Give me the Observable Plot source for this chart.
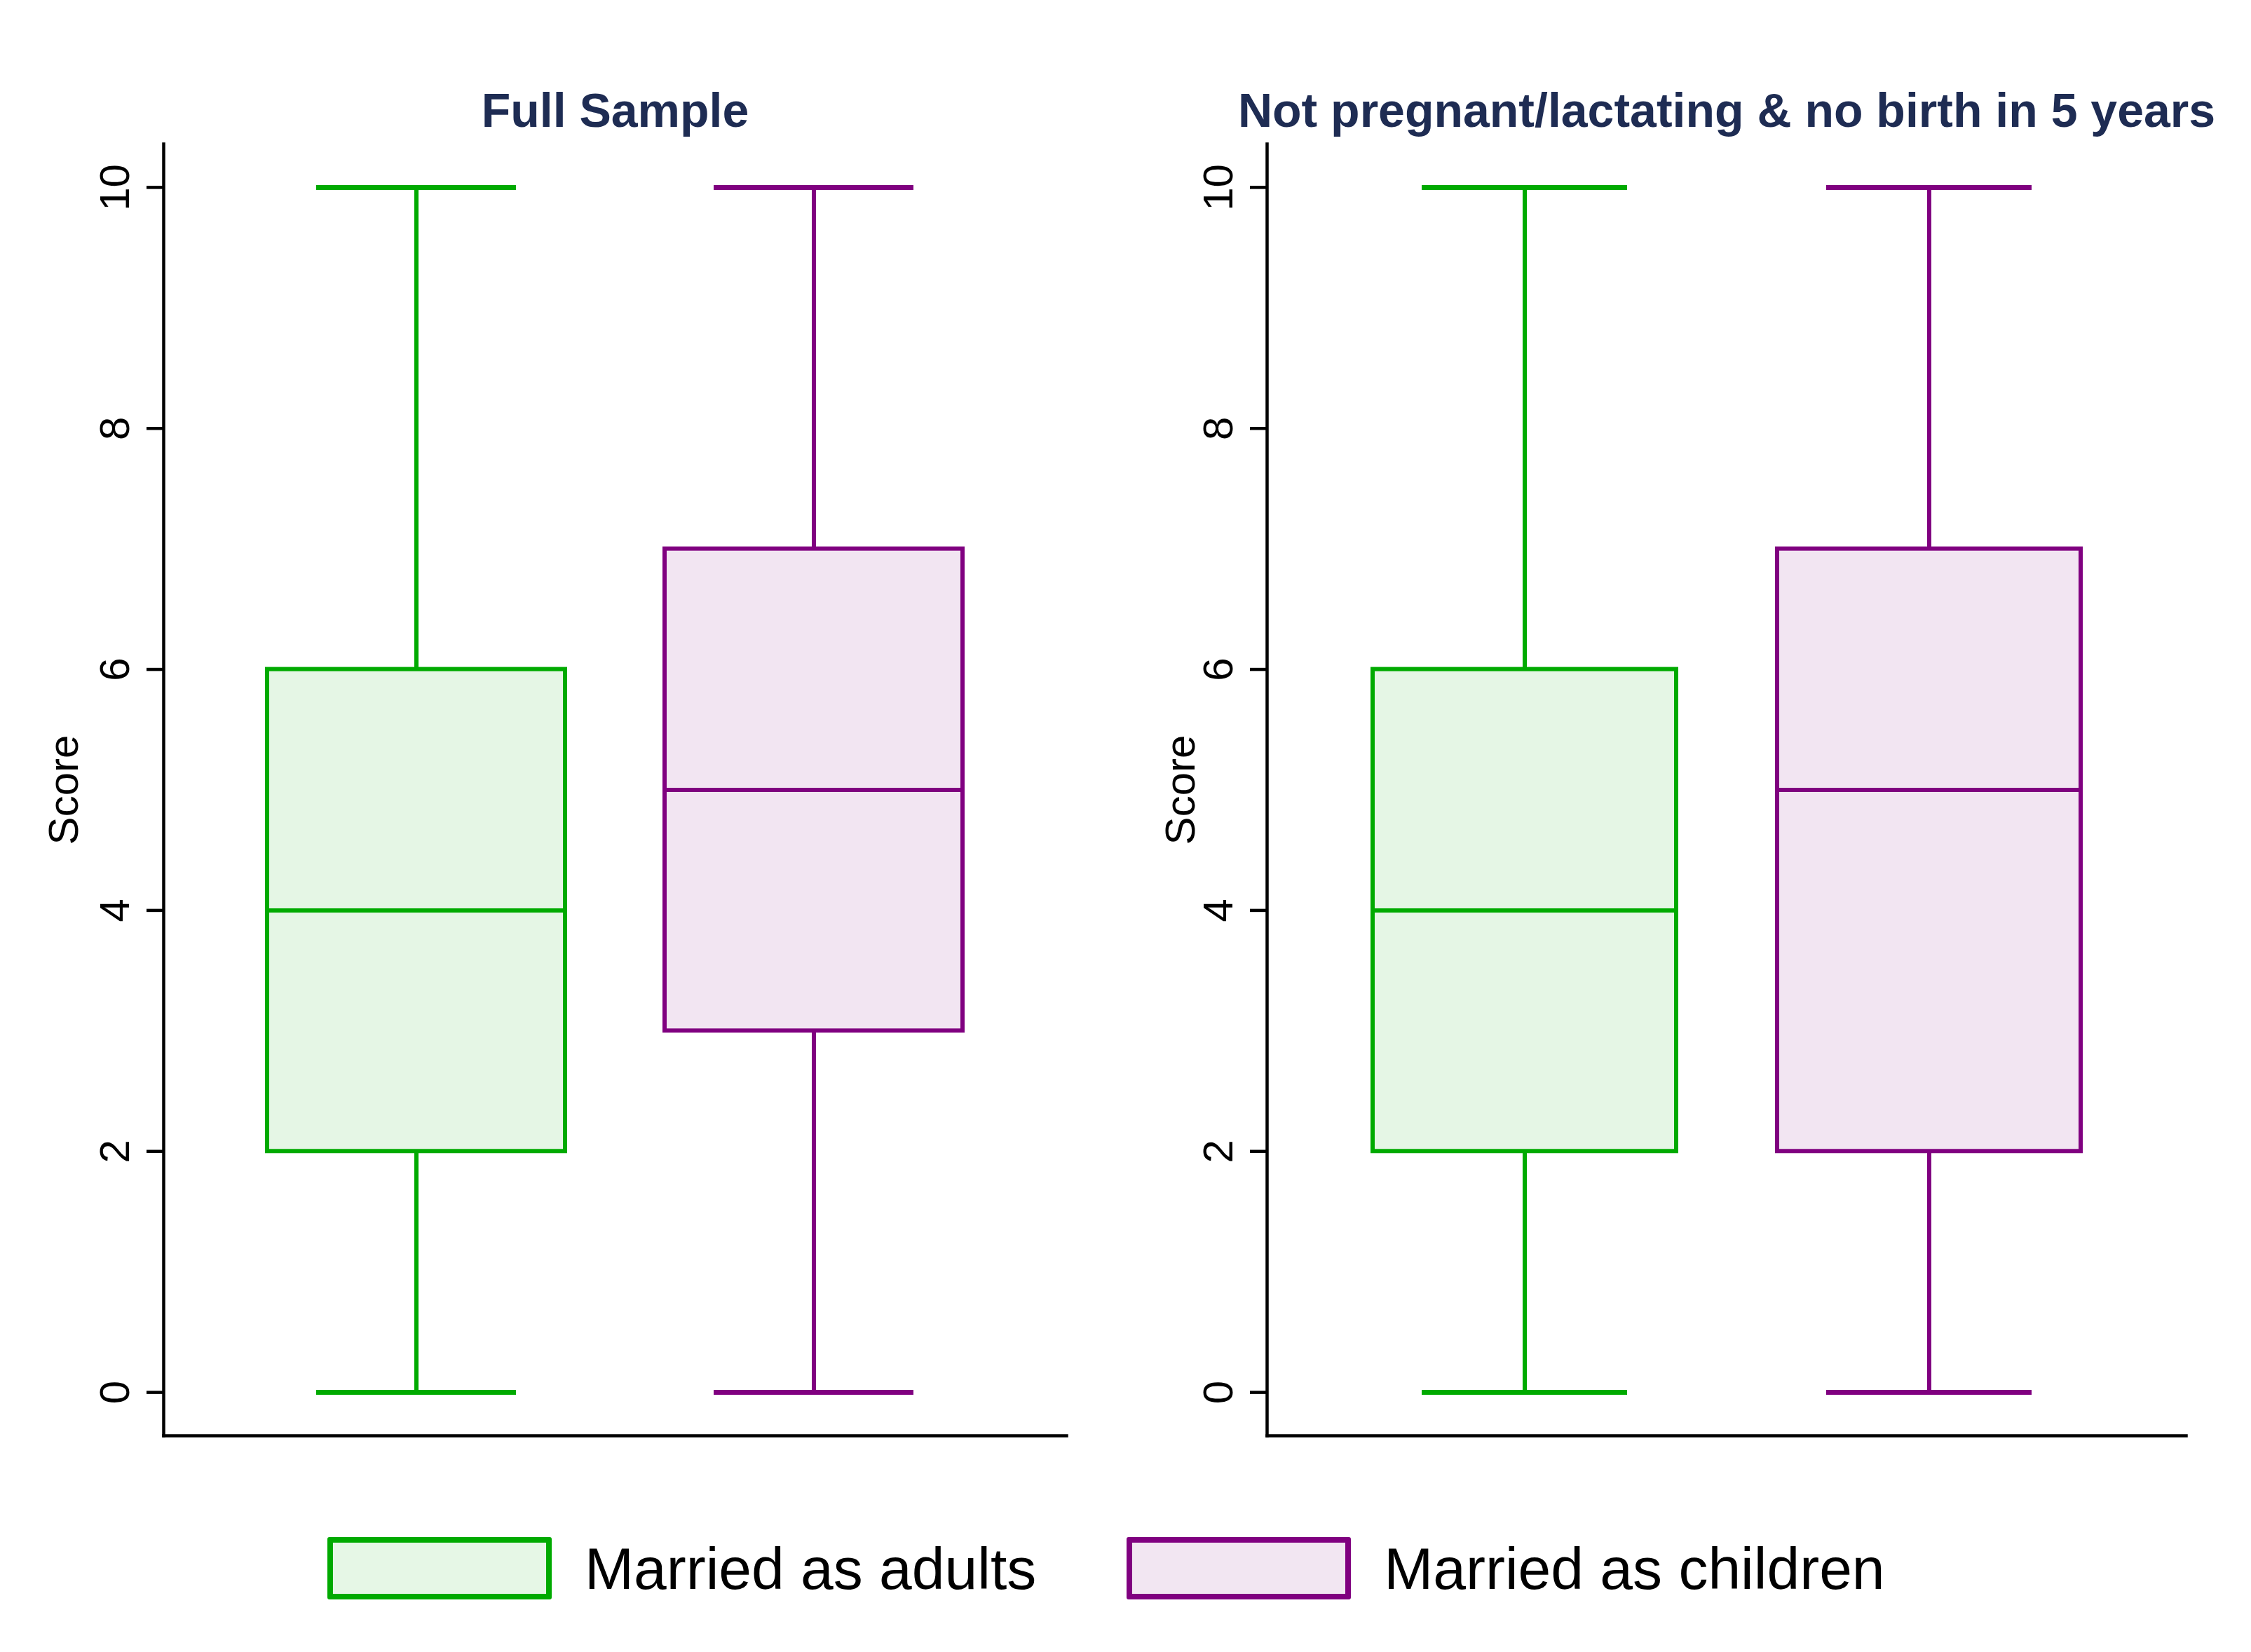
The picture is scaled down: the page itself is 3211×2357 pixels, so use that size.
<!DOCTYPE html>
<html>
<head>
<meta charset="utf-8">
<script src="https://cdn.jsdelivr.net/npm/d3@7"></script>
<script src="https://cdn.jsdelivr.net/npm/@observablehq/plot@0.6"></script>
<style>
  html, body { margin: 0; padding: 0; background: #ffffff; }
  body { width: 3211px; height: 2357px; overflow: hidden; font-family: "Liberation Sans", Arial, sans-serif; }
  #row { display: flex; flex-direction: row; align-items: flex-start; }
  #legend { display: flex; flex-direction: row; align-items: center; padding-left: 467px; padding-top: 63px; }
  .item { display: flex; flex-direction: row; align-items: center; }
  .item + .item { margin-left: 129px; }
  .swatch { width: 320px; height: 89px; box-sizing: border-box; border-width: 8px; border-style: solid; border-radius: 3px; }
  .lab { margin-left: 47px; font-size: 84px; line-height: 1; color: #000; white-space: nowrap; }
</style>
</head>
<body>
<div id="row"></div>
<div id="legend"></div>
<script>
// ---- data ----
const groups = ["Married as adults", "Married as children"];
const strokeColors = ["#00aa00", "#800080"];
const panelTitles = ["Full Sample", "Not pregnant/lactating & no birth in 5 years"];
const yTicks = [0, 2, 4, 6, 8, 10];

// box statistics per panel, one value per group
const fullMin = [0, 0];
const fullQ1 = [2, 3];
const fullMedian = [4, 5];
const fullQ3 = [6, 7];
const fullMax = [10, 10];

const subMin = [0, 0];
const subQ1 = [2, 2];
const subMedian = [4, 5];
const subQ3 = [6, 7];
const subMax = [10, 10];

function rows(mins, q1s, meds, q3s, maxs) {
  return groups.map((g, i) => ({group: g, min: mins[i], q1: q1s[i], median: meds[i], q3: q3s[i], max: maxs[i]}));
}

const panels = [
  {title: panelTitles[0], data: rows(fullMin, fullQ1, fullMedian, fullQ3, fullMax), width: 1600, marginLeft: 233, marginRight: 79, labelOffset: 165},
  {title: panelTitles[1], data: rows(subMin, subQ1, subMedian, subQ3, subMax), width: 1611, marginLeft: 207, marginRight: 93, labelOffset: 146}
];

const navy = "#1e2c53";
const lw = 6;

for (const p of panels) {
  const chart = Plot.plot({
    width: p.width,
    height: 2130,
    marginLeft: p.marginLeft,
    marginRight: p.marginRight,
    marginTop: 205,
    marginBottom: 82,
    style: {fontFamily: "'Liberation Sans', Arial, sans-serif", background: "#ffffff", color: "#000"},
    x: {domain: groups, paddingInner: 0.25, paddingOuter: 0.26, axis: null},
    y: {domain: [-0.36, 10.36]},
    color: {domain: groups, range: strokeColors},
    marks: [
      Plot.frame({anchor: "left", stroke: "#000", strokeWidth: 4.5}),
      Plot.frame({anchor: "bottom", stroke: "#000", strokeWidth: 4.5}),
      Plot.axisY({
        ticks: yTicks,
        tickSize: 24,
        tickPadding: 26,
        tickRotate: -90,
        fontSize: 60,
        strokeWidth: 4.5,
        label: "Score",
        labelArrow: "none",
        labelAnchor: "center",
        labelOffset: p.labelOffset
      }),
      // lower whisker
      Plot.ruleX(p.data, {x: "group", y1: "min", y2: "q1", stroke: "group", strokeWidth: lw}),
      // upper whisker
      Plot.ruleX(p.data, {x: "group", y1: "q3", y2: "max", stroke: "group", strokeWidth: lw}),
      // caps
      Plot.tickY(p.data, {x: "group", y: "min", stroke: "group", strokeWidth: 7, inset: 70}),
      Plot.tickY(p.data, {x: "group", y: "max", stroke: "group", strokeWidth: 7, inset: 70}),
      // box
      Plot.barY(p.data, {x: "group", y1: "q1", y2: "q3", fill: "#ffffff"}),
      Plot.barY(p.data, {x: "group", y1: "q1", y2: "q3", fill: "group", fillOpacity: 0.1, stroke: "group", strokeWidth: lw}),
      // median
      Plot.tickY(p.data, {x: "group", y: "median", stroke: "group", strokeWidth: lw}),
      // panel title
      Plot.text([p.title], {frameAnchor: "top", lineAnchor: "bottom", dy: -25, fontSize: 68, fontWeight: "bold", fill: navy})
    ]
  });
  document.getElementById("row").appendChild(chart);
}

// legend
const legend = document.getElementById("legend");
groups.forEach((g, i) => {
  const item = document.createElement("div");
  item.className = "item";
  const sw = document.createElement("div");
  sw.className = "swatch";
  sw.style.borderColor = strokeColors[i];
  sw.style.background = d3.interpolateRgb("#ffffff", strokeColors[i])(0.1);
  const lab = document.createElement("div");
  lab.className = "lab";
  lab.textContent = g;
  item.appendChild(sw);
  item.appendChild(lab);
  legend.appendChild(item);
});
</script>
</body>
</html>
